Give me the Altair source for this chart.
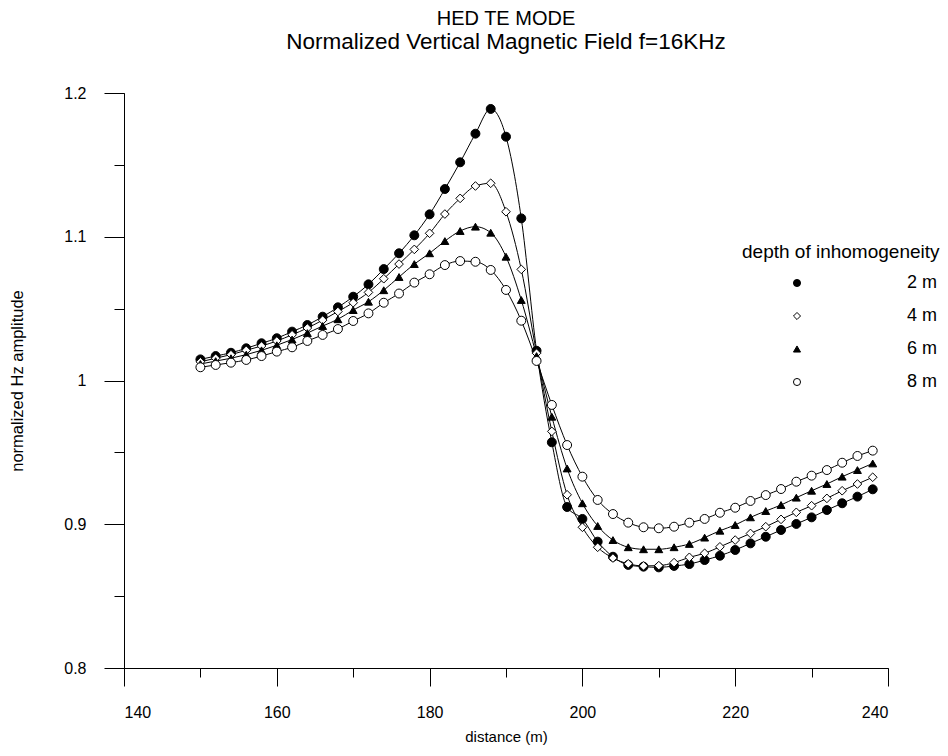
import altair as alt
import pandas as pd

FONT = "Liberation Sans"

distance = [150, 152, 154, 156, 158, 160, 162, 164, 166, 168,
            170, 172, 174, 176, 178, 180, 182, 184, 186, 188,
            190, 192, 194, 196, 198, 200, 202, 204, 206, 208,
            210, 212, 214, 216, 218, 220, 222, 224, 226, 228,
            230, 232, 234, 236, 238]

depth_labels = ["2 m", "4 m", "6 m", "8 m"]

amp_2m = [1.0147, 1.0170, 1.0193, 1.0224, 1.0259, 1.0294, 1.0340, 1.0386, 1.0444, 1.0509,
          1.0583, 1.0669, 1.0775, 1.0885, 1.1010, 1.1156, 1.1332, 1.1518, 1.1717, 1.1889,
          1.1696, 1.1128, 1.0207, 0.9570, 0.9120, 0.9037, 0.8879, 0.8774, 0.8717, 0.8705,
          0.8700, 0.8710, 0.8723, 0.8751, 0.8781, 0.8821, 0.8867, 0.8913, 0.8960, 0.9002,
          0.9048, 0.9099, 0.9146, 0.9192, 0.9243]

amp_4m = [1.0130, 1.0155, 1.0180, 1.0210, 1.0240, 1.0275, 1.0318, 1.0365, 1.0420, 1.0480,
          1.0541, 1.0613, 1.0708, 1.0810, 1.0912, 1.1024, 1.1158, 1.1267, 1.1353, 1.1372,
          1.1174, 1.0773, 1.0190, 0.9646, 0.9205, 0.8979, 0.8840, 0.8765, 0.8725, 0.8710,
          0.8712, 0.8733, 0.8770, 0.8798, 0.8843, 0.8890, 0.8936, 0.8983, 0.9034, 0.9083,
          0.9129, 0.9180, 0.9233, 0.9280, 0.9327]

amp_6m = [1.0115, 1.0135, 1.0155, 1.0180, 1.0210, 1.0245, 1.0285, 1.0330, 1.0379, 1.0426,
          1.0490, 1.0548, 1.0628, 1.0720, 1.0810, 1.0885, 1.0970, 1.1040, 1.1070, 1.1028,
          1.0861, 1.0560, 1.0170, 0.9748, 0.9388, 0.9146, 0.8988, 0.8890, 0.8840, 0.8826,
          0.8826, 0.8840, 0.8863, 0.8907, 0.8955, 0.8995, 0.9048, 0.9092, 0.9134, 0.9185,
          0.9233, 0.9280, 0.9331, 0.9377, 0.9423]

amp_8m = [1.0092, 1.0108, 1.0124, 1.0143, 1.0170, 1.0201, 1.0231, 1.0275, 1.0317, 1.0358,
          1.0414, 1.0467, 1.0541, 1.0605, 1.0681, 1.0739, 1.0803, 1.0831, 1.0826, 1.0769,
          1.0630, 1.0416, 1.0136, 0.9830, 0.9551, 0.9331, 0.9169, 0.9071, 0.9011, 0.8979,
          0.8972, 0.8983, 0.9011, 0.9037, 0.9080, 0.9115, 0.9162, 0.9203, 0.9245, 0.9296,
          0.9338, 0.9377, 0.9428, 0.9475, 0.9512]

marker_shapes = ["circle", "diamond", "triangle-up", "circle"]
marker_fills = ["black", "white", "black", "white"]
marker_strokes = ["black", "black", "black", "black"]
marker_sizes = [80, 75, 62, 80]

x_major_ticks = [140, 160, 180, 200, 220, 240]
x_minor_ticks = [140, 150, 160, 170, 180, 190, 200, 210, 220, 230, 240]
y_major_ticks = [0.8, 0.9, 1.0, 1.1, 1.2]
y_minor_ticks = [0.8, 0.85, 0.9, 0.95, 1.0, 1.05, 1.1, 1.15, 1.2]

rows = []
for label, vals in zip(depth_labels, [amp_2m, amp_4m, amp_6m, amp_8m]):
    for d, v in zip(distance, vals):
        rows.append({"distance": d, "amp": v, "depth": label})
df = pd.DataFrame(rows)

x_scale = alt.Scale(domain=[140, 240], nice=False, zero=False)
y_scale = alt.Scale(domain=[0.8, 1.2], nice=False, zero=False)

x_minor_axis = alt.Axis(values=x_minor_ticks, labels=False, title=None, tickSize=9,
                        domain=True, domainColor="black", tickColor="black", grid=False,
                        orient="bottom")
y_minor_axis = alt.Axis(values=y_minor_ticks, labels=False, title=None, tickSize=10,
                        domain=True, domainColor="black", tickColor="black", grid=False,
                        orient="left")

x_major_axis = alt.Axis(values=x_major_ticks, title="distance (m)", tickSize=18,
                        domain=False, tickColor="black", grid=False, orient="bottom",
                        labelFont=FONT, labelFontSize=16, labelColor="black", labelPadding=18,
                        titleFont=FONT, titleFontSize=15, titleFontWeight="normal",
                        titleColor="black", titlePadding=9, format="d")
y_major_axis = alt.Axis(values=y_major_ticks, title="normalized Hz  amplitude", tickSize=20,
                        domain=False, tickColor="black", grid=False, orient="left",
                        labelFont=FONT, labelFontSize=16, labelColor="black", labelPadding=18,
                        titleFont=FONT, titleFontSize=16.5, titleFontWeight="normal",
                        titleColor="black", titlePadding=38, format="~g")

legend = alt.Legend(
    orient="none", legendX=618, legendY=150,
    title="depth of inhomogeneity",
    symbolStrokeColor="black", symbolStrokeWidth=1,
)

shape_enc = alt.Shape("depth:N", scale=alt.Scale(domain=depth_labels, range=marker_shapes),
                      legend=legend)
fill_enc = alt.Fill("depth:N", scale=alt.Scale(domain=depth_labels, range=marker_fills),
                    legend=legend)
stroke_enc = alt.Stroke("depth:N", scale=alt.Scale(domain=depth_labels, range=marker_strokes),
                        legend=legend)

lines = alt.Chart(df).mark_line(interpolate="monotone", color="black", strokeWidth=1).encode(
    x=alt.X("distance:Q", scale=x_scale, axis=x_minor_axis),
    y=alt.Y("amp:Q", scale=y_scale, axis=y_minor_axis),
    detail="depth:N",
)

point_layers = []
for i, label in enumerate(depth_labels):
    layer = alt.Chart(df).transform_filter(
        alt.datum.depth == label
    ).mark_point(strokeWidth=1, opacity=1, fillOpacity=1, strokeOpacity=1,
                 size=marker_sizes[i]).encode(
        x=alt.X("distance:Q", scale=x_scale, axis=x_major_axis if i == 0 else None),
        y=alt.Y("amp:Q", scale=y_scale, axis=y_major_axis if i == 0 else None),
        shape=shape_enc,
        fill=fill_enc,
        stroke=stroke_enc,
    )
    point_layers.append(layer)

chart = alt.layer(lines, *point_layers).resolve_axis(
    x="independent", y="independent"
).properties(
    width=764, height=575,
    autosize=alt.AutoSizeParams(type="none"),
    padding={"left": 124, "top": 93, "right": 60, "bottom": 88},
    title=alt.Title(text="HED TE MODE",
                    subtitle="Normalized Vertical Magnetic Field f=16KHz",
                    font=FONT, fontSize=20, fontWeight="normal", color="black",
                    subtitleFont=FONT, subtitleFontSize=22.5, subtitleColor="black",
                    subtitlePadding=2, anchor="middle", offset=32),
).configure(background="white").configure_view(strokeWidth=0, stroke="transparent").configure_legend(
    titleFont=FONT, titleFontSize=19, titleFontWeight="normal", titleColor="black",
    titlePadding=12, titleLimit=400, labelFont=FONT, labelFontSize=18, labelColor="black",
    labelAlign="right", labelOffset=131, symbolOffset=46,
    symbolStrokeColor="black", symbolStrokeWidth=1, symbolSize=50, rowPadding=15,
)

chart.save("out.html", embed_options={"renderer": "svg", "actions": False})
